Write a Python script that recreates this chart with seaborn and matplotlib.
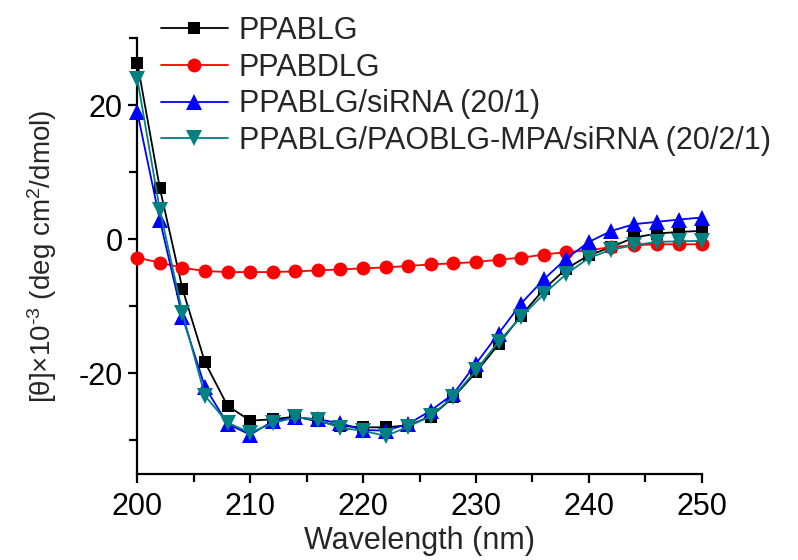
import numpy as np
import pandas as pd
import matplotlib
matplotlib.use("Agg")
import matplotlib.pyplot as plt
from matplotlib.lines import Line2D
from matplotlib.ticker import MultipleLocator
import seaborn as sns

# CD spectra, wavelength step 2 nm
wavelength = list(range(200, 251, 2))

ppablg = [26.4, 7.6, -7.4, -18.4, -24.9, -27.1, -26.9, -26.5, -27.2, -27.9,
          -28.1, -28.1, -27.8, -26.5, -23.6, -19.9, -15.7, -11.4, -7.5, -4.4,
          -2.4, -1.15, 0.25, 0.85, 1.1, 1.25]
ppabdlg = [-2.75, -3.5, -4.25, -4.75, -4.9, -4.9, -4.9, -4.8, -4.65, -4.5,
           -4.35, -4.2, -4.0, -3.75, -3.6, -3.4, -3.05, -2.75, -2.3, -1.9,
           -1.65, -1.15, -0.9, -0.75, -0.75, -0.75]
ppablg_sirna = [19.0, 2.85, -11.6, -22.1, -27.6, -29.2, -27.2, -26.6, -26.9, -27.5,
                -28.5, -28.6, -27.6, -25.6, -23.1, -18.6, -14.1, -9.6, -6.0, -2.9,
                -0.4, 1.25, 2.25, 2.6, 2.95, 3.25]
ppablg_paoblg_sirna = [24.0, 4.35, -11.0, -23.4, -27.4, -28.9, -27.5, -26.6, -27.0, -28.2,
                       -28.6, -29.4, -28.0, -26.4, -23.5, -19.6, -15.3, -11.6, -8.2, -5.2,
                       -2.8, -1.55, -0.9, -0.4, -0.3, -0.25]

names = ["PPABLG", "PPABDLG", "PPABLG/siRNA (20/1)", "PPABLG/PAOBLG-MPA/siRNA (20/2/1)"]
series = [ppablg, ppabdlg, ppablg_sirna, ppablg_paoblg_sirna]
colors = ["#000000", "#ff0000", "#0000ff", "#008080"]
markers = ["s", "o", "^", "v"]
msizes = [9, 10, 11, 11]

df = pd.concat(
    [pd.DataFrame({"wavelength": wavelength, "theta": vals, "sample": name})
     for name, vals in zip(names, series)],
    ignore_index=True,
)

sns.set_theme(style="ticks")
plt.rcParams["font.family"] = ["Liberation Sans", "DejaVu Sans"]
plt.rcParams["mathtext.default"] = "regular"
plt.rcParams["axes.unicode_minus"] = False

fig = plt.figure(figsize=(7.98, 5.6), dpi=100)
ax = fig.add_axes([137.3 / 798, 1 - 473.5 / 560, (701.7 - 137.3) / 798, (473.5 - 38.5) / 560])

for name, c, m, ms in zip(names, colors, markers, msizes):
    sns.lineplot(data=df[df["sample"] == name], x="wavelength", y="theta",
                 color=c, marker=m, markersize=ms, markeredgewidth=0,
                 linewidth=1.3, ax=ax, legend=False, clip_on=False, zorder=3)

ax.set_xlim(200, 250)
ax.set_ylim(-35, 30)
ax.xaxis.set_major_locator(MultipleLocator(10))
ax.xaxis.set_minor_locator(MultipleLocator(5))
ax.yaxis.set_major_locator(MultipleLocator(20))
ax.yaxis.set_minor_locator(MultipleLocator(10))
sns.despine(ax=ax)
for side in ("left", "bottom"):
    ax.spines[side].set_linewidth(1.6)
    ax.spines[side].set_color("black")
ax.tick_params(which="both", direction="out", length=6.5, width=1.6, color="black",
               labelsize=22, labelcolor="black")
ax.tick_params(which="minor", length=5.5)
ax.tick_params(axis="x", pad=7)
ax.tick_params(axis="y", pad=4)

ax.set_xlabel("Wavelength (nm)", fontsize=22, labelpad=3)
ax.set_ylabel("[θ]×10$^{‐3}$ (deg cm$^{2}$/dmol)", fontsize=20, labelpad=14)

handles = [Line2D([], [], color=c, marker=m, markersize=ms, markeredgewidth=0, linewidth=1.3)
           for c, m, ms in zip(colors, markers, msizes)]
fig.legend(handles, names, loc="upper left", bbox_to_anchor=(160.7 / 798, 1 - 16 / 560),
           frameon=False, fontsize=22, handlelength=2.2, handletextpad=0.35,
           labelspacing=0.22, borderpad=0, borderaxespad=0)

fig.savefig("out.png", dpi=100)
